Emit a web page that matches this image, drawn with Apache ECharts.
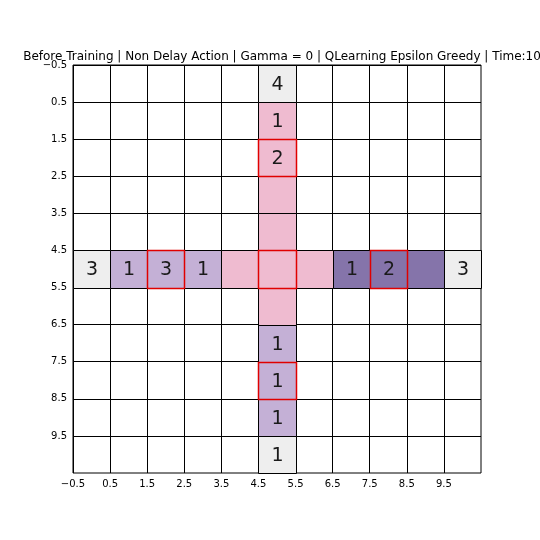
<!DOCTYPE html>
<html><head><meta charset="utf-8">
<script src="https://cdn.jsdelivr.net/npm/echarts@6/dist/echarts.min.js"></script>
<style>html,body{margin:0;padding:0;background:#fff}#c{width:540px;height:540px}</style>
</head><body><div id="c"></div>
<script>
var titleText = "Before Training | Non Delay Action | Gamma = 0 | QLearning Epsilon Greedy | Time:10";
var tickValues = [-0.5, 0.5, 1.5, 2.5, 3.5, 4.5, 5.5, 6.5, 7.5, 8.5, 9.5];
// colored cells: column, row, kind, label
var cellX     = [5, 5, 5, 5, 5, 5, 5, 5, 5, 5, 5,   0, 1, 2, 3, 4, 6, 7, 8, 9, 10];
var cellY     = [0, 1, 2, 3, 4, 5, 6, 7, 8, 9, 10,  5, 5, 5, 5, 5, 5, 5, 5, 5, 5];
var cellKind  = ['end','pink','pink','pink','pink','pink','pink','lp','lp','lp','end',
                 'end','lp','lp','lp','pink','pink','dp','dp','dp','end'];
var cellLabel = ['4','1','2','','','','','1','1','1','1',
                 '3','1','3','1','','','1','2','','3'];
var redX = [5, 2, 5, 8, 5];
var redY = [2, 5, 5, 5, 8];
var kindColor = {end:'#eeeeee', pink:'#efbbd0', lp:'#c4b0d6', dp:'#8574aa'};

var cellData = cellX.map(function(x,i){return [x, cellY[i], cellKind[i], cellLabel[i]];});
var redData = redX.map(function(x,i){return [x, redY[i]];});

function rectOf(api, x, y){
  var p1 = api.coord([x-0.5, y-0.5]);
  var p2 = api.coord([x+0.5, y+0.5]);
  var x0 = Math.round(Math.min(p1[0],p2[0])) + 0.5, x1 = Math.round(Math.max(p1[0],p2[0])) + 0.5;
  var y0 = Math.round(Math.min(p1[1],p2[1])) + 0.5, y1 = Math.round(Math.max(p1[1],p2[1])) + 0.5;
  return {x:x0, y:y0, width:x1-x0, height:y1-y0};
}
function fmt(v){ return v.toFixed(1).replace('-', '\u2212'); }

var chart = echarts.init(document.getElementById('c'), null, {renderer:'canvas'});
chart.setOption({
  animation:false,
  backgroundColor:'#fff',
  title:{text:titleText, left:277, top:46, textAlign:'center',
    textStyle:{fontFamily:'DejaVu Sans', fontSize:12, fontWeight:'normal', color:'#000'}},
  grid:{left:73, right:59, top:65, bottom:67, show:true, borderColor:'#000', borderWidth:1, backgroundColor:'transparent'},
  xAxis:{type:'value', min:-0.5, max:10.5, interval:1,
    axisLine:{show:false},
    axisTick:{show:true, length:4, lineStyle:{color:'#000'}, customValues:tickValues},
    axisLabel:{customValues:tickValues, formatter:fmt, fontFamily:'DejaVu Sans', fontSize:10, color:'#000', margin:6},
    splitLine:{show:true, lineStyle:{color:'#000', width:1}}},
  yAxis:{type:'value', min:-0.5, max:10.5, interval:1, inverse:true,
    axisLine:{show:false},
    axisTick:{show:true, length:4, lineStyle:{color:'#000'}, customValues:tickValues},
    axisLabel:{customValues:tickValues, formatter:fmt, fontFamily:'DejaVu Sans', fontSize:10, color:'#000', margin:6},
    splitLine:{show:true, lineStyle:{color:'#000', width:1}}},
  series:[
    {type:'custom', data:cellData, z:2, silent:true,
      renderItem:function(params, api){
        var x = api.value(0), y = api.value(1);
        var d = cellData[params.dataIndex];
        var r = rectOf(api, x, y);
        return {type:'group', children:[
          {type:'rect', shape:r, style:{fill:kindColor[d[2]], stroke:'#000', lineWidth:1}},
          {type:'text', style:{text:d[3], x:r.x + r.width/2, y:r.y + r.height/2 + 1, align:'center', verticalAlign:'middle',
            font:'19px "DejaVu Sans"', fill:'#1a1a1a'}}
        ]};
      }},
    {type:'custom', data:redData, z:3, silent:true,
      renderItem:function(params, api){
        var r = rectOf(api, api.value(0), api.value(1));
        return {type:'rect', shape:r, style:{fill:null, stroke:'#e00000', lineWidth:1.5}};
      }}
  ]
});
</script></body></html>
